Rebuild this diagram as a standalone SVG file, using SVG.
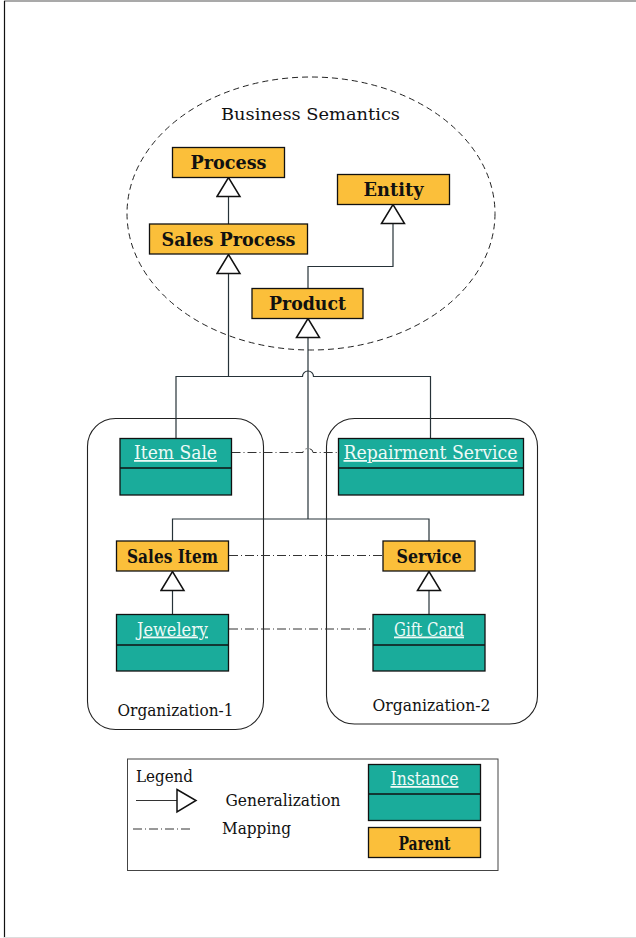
<svg xmlns="http://www.w3.org/2000/svg" width="636" height="938" viewBox="0 0 636 938">
  <style>
    text { font-family: "DejaVu Serif", "Liberation Serif", serif; fill: #111; }
    .reg { font-size: 17px; }
    .bold { font-size: 19px; font-weight: bold; text-anchor: middle; }
    .inst { font-size: 18px; fill: #eefaf7; text-decoration: underline; text-anchor: middle; }
    .parent { fill: #fbbf3a; stroke: #111; stroke-width: 1.3; }
    .teal { fill: #1aac9b; stroke: #111; stroke-width: 1.3; }
    .org { fill: none; stroke: #222; stroke-width: 1.1; }
    .gen { fill: none; stroke: #263238; stroke-width: 1.2; }
    .map { fill: none; stroke: #333; stroke-width: 1; stroke-dasharray: 9 3 1 3; }
  </style>
  <defs>
    <marker id="tri" viewBox="0 0 21 26" refX="20" refY="13" markerWidth="21" markerHeight="26" markerUnits="userSpaceOnUse" orient="auto">
      <path d="M1,1.5 L20,13 L1,24.5 Z" fill="#fff" stroke="#111" stroke-width="1.5"/>
    </marker>
  </defs>

  <rect width="636" height="938" fill="#fff"/>
  <!-- page frame -->
  <line x1="4" y1="1" x2="636" y2="1" stroke="#555" stroke-width="1.2"/>
  <line x1="4.5" y1="1" x2="4.5" y2="938" stroke="#111" stroke-width="1.2"/>
  <line x1="4" y1="937.5" x2="636" y2="937.5" stroke="#ddd" stroke-width="1"/>

  <!-- business semantics region -->
  <g id="business-semantics">
    <ellipse cx="311" cy="213.5" rx="184" ry="136.5" fill="none" stroke="#222" stroke-width="1" stroke-dasharray="6 4"/>
    <text class="reg" x="310.5" y="120" font-size="18" text-anchor="middle" textLength="179" lengthAdjust="spacingAndGlyphs">Business Semantics</text>
  </g>

  <!-- organisation containers -->
  <g id="organization-1">
    <rect class="org" x="87.5" y="418.5" width="176" height="311" rx="28"/>
    <text class="reg" x="175.5" y="716" text-anchor="middle" textLength="116" lengthAdjust="spacingAndGlyphs">Organization-1</text>
  </g>
  <g id="organization-2">
    <rect class="org" x="326.5" y="418.5" width="211" height="305.5" rx="28"/>
    <text class="reg" x="431.5" y="711" text-anchor="middle" textLength="118" lengthAdjust="spacingAndGlyphs">Organization-2</text>
  </g>

  <!-- connectors -->
  <g id="connectors">
    <path class="gen" d="M228.5,224 L228.5,177.5" marker-end="url(#tri)"/>
    <path class="gen" d="M308,288 L308,266.5 L393,266.5 L393,204.5" stroke="#666" marker-end="url(#tri)"/>
    <path class="gen" d="M228.5,376.5 L228.5,254.5" marker-end="url(#tri)"/>
    <path class="gen" d="M176,438 L176,376.5 L302.5,376.5 A5.5,5.5 0 0 1 313.5,376.5 L430.5,376.5 L430.5,438"/>
    <path class="gen" d="M308,519 L308,318.5" stroke="#37474f" marker-end="url(#tri)"/>
    <path class="gen" d="M172.5,541 L172.5,519 L429,519 L429,541" stroke="#4a5560"/>
    <path class="gen" d="M172.5,614.5 L172.5,571.5" marker-end="url(#tri)"/>
    <path class="gen" d="M429,614.5 L429,571.5" marker-end="url(#tri)"/>
    <path class="map" d="M231.5,452.5 L303,452.5 A5,4 0 0 1 313,452.5 L338,452.5"/>
    <path class="map" d="M229,555.5 L383,555.5"/>
    <path class="map" d="M229,629 L373,629"/>
  </g>

  <!-- parent classes -->
  <g id="process">
    <rect class="parent" x="172.5" y="147.5" width="112" height="30"/>
    <text class="bold" x="228.5" y="169" textLength="76" lengthAdjust="spacingAndGlyphs">Process</text>
  </g>
  <g id="entity">
    <rect class="parent" x="337.5" y="174.5" width="112" height="30"/>
    <text class="bold" x="393.5" y="196" textLength="60" lengthAdjust="spacingAndGlyphs">Entity</text>
  </g>
  <g id="sales-process">
    <rect class="parent" x="149.5" y="224" width="158" height="30"/>
    <text class="bold" x="228.5" y="246" textLength="134" lengthAdjust="spacingAndGlyphs">Sales Process</text>
  </g>
  <g id="product">
    <rect class="parent" x="252" y="288.5" width="111" height="30"/>
    <text class="bold" x="307.5" y="310" textLength="77" lengthAdjust="spacingAndGlyphs">Product</text>
  </g>
  <g id="sales-item">
    <rect class="parent" x="116.5" y="541" width="112" height="30"/>
    <text class="bold" x="172.5" y="563" textLength="91" lengthAdjust="spacingAndGlyphs">Sales Item</text>
  </g>
  <g id="service">
    <rect class="parent" x="383" y="541" width="92" height="30"/>
    <text class="bold" x="429" y="563" textLength="65" lengthAdjust="spacingAndGlyphs">Service</text>
  </g>

  <!-- instances -->
  <g id="item-sale">
    <rect class="teal" x="120" y="438.5" width="111.5" height="56.5"/>
    <line x1="120" y1="468" x2="231.5" y2="468" stroke="#111" stroke-width="1.3"/>
    <text class="inst" x="175.5" y="459" textLength="83" lengthAdjust="spacingAndGlyphs">Item Sale</text>
  </g>
  <g id="repairment-service">
    <rect class="teal" x="338.5" y="438.5" width="185" height="56.5"/>
    <line x1="338.5" y1="468" x2="523.5" y2="468" stroke="#111" stroke-width="1.3"/>
    <text class="inst" x="430.5" y="459" textLength="174" lengthAdjust="spacingAndGlyphs">Repairment Service</text>
  </g>
  <g id="jewelery">
    <rect class="teal" x="116.5" y="614.5" width="112" height="56.5"/>
    <line x1="116.5" y1="645" x2="228.5" y2="645" stroke="#111" stroke-width="1.3"/>
    <text class="inst" x="172.5" y="635.5" textLength="71" lengthAdjust="spacingAndGlyphs">Jewelery</text>
  </g>
  <g id="gift-card">
    <rect class="teal" x="373" y="614.5" width="112" height="56.5"/>
    <line x1="373" y1="645" x2="485" y2="645" stroke="#111" stroke-width="1.3"/>
    <text class="inst" x="429" y="635.5" textLength="70" lengthAdjust="spacingAndGlyphs">Gift Card</text>
  </g>

  <!-- legend -->
  <g id="legend">
    <rect x="127.5" y="759" width="370.5" height="111.5" fill="none" stroke="#444" stroke-width="1"/>
    <text class="reg" x="136" y="782" font-size="16" textLength="57" lengthAdjust="spacingAndGlyphs">Legend</text>
    <line x1="136" y1="800.5" x2="177" y2="800.5" stroke="#333" stroke-width="1.2"/>
    <path d="M177,789.5 L196,800.5 L177,812 Z" fill="#fff" stroke="#111" stroke-width="1.5"/>
    <text class="reg" x="225.5" y="806" font-size="16.5" textLength="115" lengthAdjust="spacingAndGlyphs">Generalization</text>
    <line class="map" x1="133" y1="829" x2="191" y2="829" stroke="#555"/>
    <text class="reg" x="222" y="834" font-size="16.5" textLength="69" lengthAdjust="spacingAndGlyphs">Mapping</text>
    <rect class="teal" x="368.5" y="764.5" width="112" height="56"/>
    <line x1="368.5" y1="794" x2="480.5" y2="794" stroke="#111" stroke-width="1.3"/>
    <text class="inst" x="424.5" y="785" textLength="68" lengthAdjust="spacingAndGlyphs">Instance</text>
    <rect class="parent" x="368.5" y="827.5" width="112" height="30"/>
    <text class="bold" x="424.5" y="849.5" font-size="17" textLength="52" lengthAdjust="spacingAndGlyphs">Parent</text>
  </g>
</svg>
